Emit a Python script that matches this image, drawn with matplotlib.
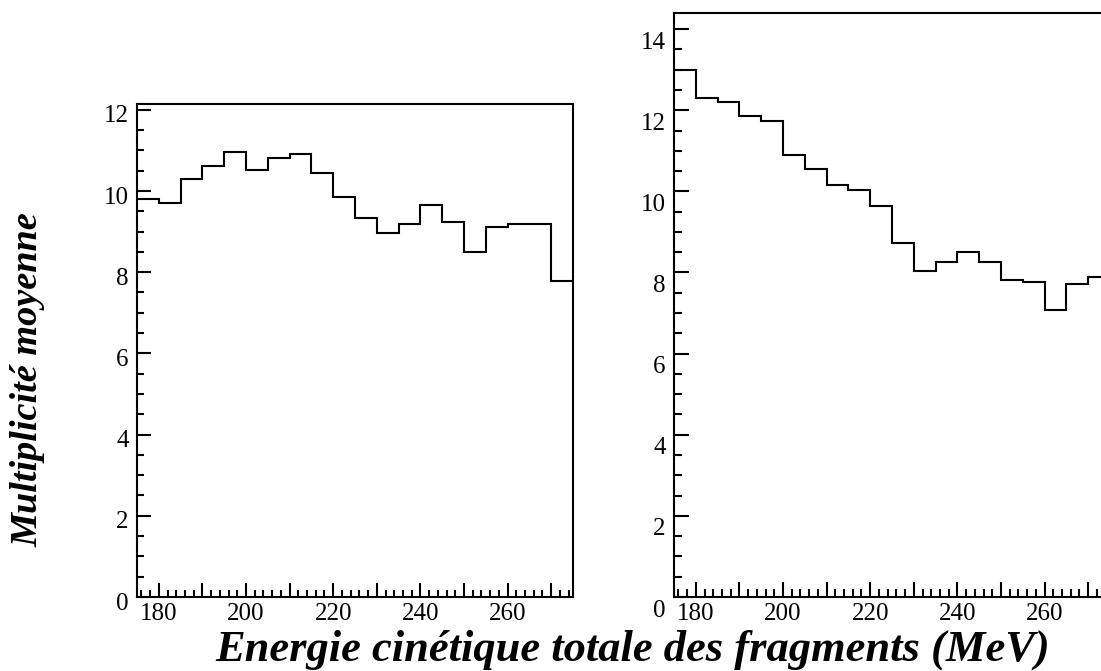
import matplotlib
matplotlib.use("Agg")
import matplotlib.pyplot as plt
from matplotlib.ticker import MultipleLocator
from matplotlib.transforms import ScaledTranslation

plt.rcParams['font.family'] = ['Liberation Serif', 'DejaVu Serif']

# bin edges (MeV), bins of 5 MeV from 175 to 275
edges = list(range(175, 280, 5))

# mean multiplicity, left panel
mult_left = [9.81, 9.70, 10.29, 10.62, 10.96, 10.52, 10.80, 10.91, 10.43, 9.85,
             9.33, 8.97, 9.18, 9.66, 9.23, 8.50, 9.10, 9.18, 9.18, 7.78]

# mean multiplicity, right panel
mult_right = [13.00, 12.31, 12.20, 11.85, 11.74, 10.89, 10.55, 10.15, 10.04, 9.64,
              8.72, 8.03, 8.27, 8.50, 8.27, 7.82, 7.76, 7.08, 7.71, 7.88]

xticks = list(range(180, 280, 10))
xlabel = "Energie cinétique totale des fragments (MeV)"
ylabel = "Multiplicité moyenne"

W, H = 1101, 671
fig = plt.figure(figsize=(W / 100, H / 100), dpi=100)


def make_panel(rect, values, ymax, major_len, minor_len, label_dy):
	ax = fig.add_axes(rect)
	ax.stairs(values, edges, baseline=None, color='black', linewidth=1.5)
	ax.set_xlim(175, 275)
	ax.set_ylim(0, ymax)
	ax.set_xticks(xticks)
	ax.set_xticklabels([str(x) if x % 20 == 0 else '' for x in xticks])
	ax.xaxis.set_minor_locator(MultipleLocator(2))
	ax.yaxis.set_major_locator(MultipleLocator(2))
	ax.yaxis.set_minor_locator(MultipleLocator(0.5))
	for s in ax.spines.values():
		s.set_linewidth(1.5)
	ax.tick_params(which='both', direction='in', top=False, right=False,
		       labelsize=18, width=1.5)
	ax.tick_params(which='major', length=major_len)
	ax.tick_params(which='minor', length=minor_len)
	ax.tick_params(axis='x', pad=4)
	ax.tick_params(axis='y', pad=6)
	# labels sit a little below their ticks in the original
	off = ScaledTranslation(0, -label_dy / 72, fig.dpi_scale_trans)
	for lbl in ax.get_yticklabels():
		lbl.set_transform(lbl.get_transform() + off)
	return ax


ax1 = make_panel([137 / W, 1 - 597 / H, 436 / W, (597 - 104) / H],
		 mult_left, 12.14, 10, 5, 3)
ax2 = make_panel([674 / W, 1 - 597 / H, 436 / W, (597 - 13.3) / H],
		 mult_right, 14.39, 11, 5.5, 8)

fig.text(633 / W, 1 - 650 / H, xlabel, ha='center', va='center',
	 fontsize=32, fontweight='bold', fontstyle='italic')
fig.text(28 / W, 1 - 380 / H, ylabel, ha='center', va='center', rotation=90,
	 fontsize=27.5, fontweight='bold', fontstyle='italic')

fig.savefig("out.png", dpi=100)
